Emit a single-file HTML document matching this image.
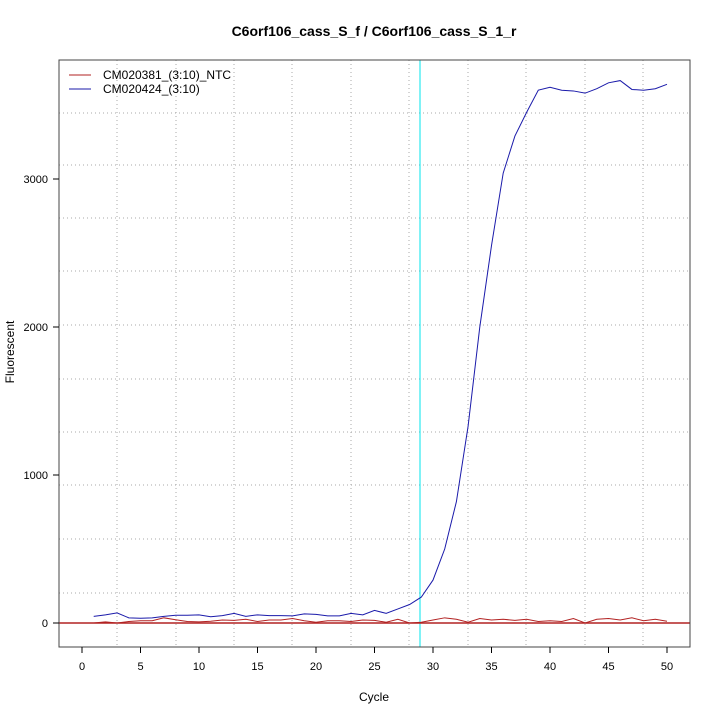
<!DOCTYPE html>
<html><head><meta charset="utf-8"><style>body{margin:0;background:#fff}svg{display:block}</style></head>
<body>
<svg id="s" width="720" height="720" xmlns="http://www.w3.org/2000/svg" font-family="Liberation Sans, sans-serif">
<rect width="720" height="720" fill="#fff"/>
<text x="374" y="36" text-anchor="middle" font-size="14" font-weight="bold">C6orf106_cass_S_f / C6orf106_cass_S_1_r</text>
<g id="grid" stroke="#aaa" stroke-dasharray="1,3" stroke-width="1"></g>
<line x1="420" y1="60" x2="420" y2="647" stroke="#00e5ee" stroke-width="1"/>
<line x1="59" y1="623" x2="690" y2="623" stroke="#b22222" stroke-width="1.5"/>
<polyline id="red" fill="none" stroke="#b22222" stroke-width="1"/>
<polyline id="blue" fill="none" stroke="#1a1aaa" stroke-width="1"/>
<rect x="59" y="60" width="631" height="587" fill="none" stroke="#444" stroke-width="1"/>
<g id="ax" font-size="11" fill="#000"></g>
<text x="374" y="701" text-anchor="middle" font-size="12">Cycle</text>
<text transform="translate(14,352) rotate(-90)" text-anchor="middle" font-size="12">Fluorescent</text>
<line x1="69" y1="75" x2="91" y2="75" stroke="#b22222"/>
<line x1="69" y1="89" x2="91" y2="89" stroke="#1a1aaa"/>
<text x="103" y="79" font-size="12">CM020381_(3:10)_NTC</text>
<text x="103" y="93" font-size="12">CM020424_(3:10)</text>
</svg>
<script>
const X=c=>82+c*11.7, Y=v=>623-v*0.148;
const ns="http://www.w3.org/2000/svg";
function el(p,t,a,txt){const e=document.createElementNS(ns,t);for(const k in a)e.setAttribute(k,a[k]);if(txt!==undefined)e.textContent=txt;p.appendChild(e);return e;}
const g=document.getElementById('grid');
[117,176,234,292,351,409,468,526,585,643].forEach(x=>el(g,'line',{x1:x,y1:60,x2:x,y2:647}));
[113,165,218,271,325,379,432,485,539,593].forEach(y=>el(g,'line',{x1:59,y1:y,x2:690,y2:y}));
const ax=document.getElementById('ax');
for(let c=0;c<=50;c+=5){el(ax,'line',{x1:X(c),y1:647,x2:X(c),y2:653,stroke:'#000'});el(ax,'text',{x:X(c),y:670,'text-anchor':'middle'},String(c));}
[0,1000,2000,3000].forEach(v=>{el(ax,'line',{x1:53,y1:Y(v),x2:59,y2:Y(v),stroke:'#000'});el(ax,'text',{x:48,y:Y(v)+4,'text-anchor':'end'},String(v));});
const b=[45,55,68,35,32,35,45,52,52,55,42,50,65,45,55,50,50,48,62,58,48,48,65,55,85,65,95,125,175,290,500,820,1330,2000,2550,3040,3290,3450,3600,3620,3600,3595,3580,3610,3650,3665,3605,3600,3610,3640];
const r=[0,8,0,10,15,15,35,22,10,8,12,20,18,25,10,20,20,30,15,5,15,15,10,20,18,5,25,0,5,20,35,25,5,30,20,25,18,25,10,15,10,30,0,25,30,20,35,15,25,12];
document.getElementById('blue').setAttribute('points',b.map((v,i)=>X(i+1)+','+Y(v)).join(' '));
document.getElementById('red').setAttribute('points',r.map((v,i)=>X(i+1)+','+Y(v)).join(' '));
</script>
</body></html>
